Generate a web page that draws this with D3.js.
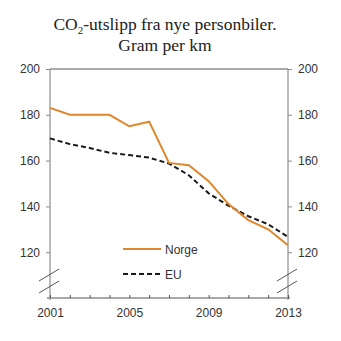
<!DOCTYPE html>
<html><head><meta charset="utf-8">
<script src="https://cdn.jsdelivr.net/npm/d3@7"></script>
<style>body{margin:0;background:#fff}svg{display:block}</style>
</head><body>
<svg id="c" width="341" height="341"></svg>
<script>
const years = [2001,2002,2003,2004,2005,2006,2007,2008,2009,2010,2011,2012,2013];
const norge = [183,180,180,180,175,177,159,158,151,141,134,130,123];
const eu = [169.7,167.2,165.5,163.4,162.4,161.3,158.7,153.6,145.7,140.3,135.7,132.2,126.7];
const yTicks = [120,140,160,180,200];
const xLabels = [2001,2005,2009,2013];
const seriesNames = ["Norge","EU"];

const svg = d3.select("#c");
const L=50,R=288,T=69,B=298;
const x = d3.scaleLinear().domain([2001,2013]).range([L,R]);
const y = d3.scaleLinear().domain([100,200]).range([B,T]);
const axisCol="#8c8c8c";
const font="Liberation Sans, Arial, sans-serif";

// title
const title = svg.append("text").attr("x",165).attr("y",30).attr("text-anchor","middle")
  .style("font-family","Liberation Serif, Times New Roman, serif").style("font-size","17.5px").attr("fill","#222");
title.append("tspan").text("CO");
title.append("tspan").text("2").attr("dy",4).style("font-size","11px");
title.append("tspan").text("-utslipp fra nye personbiler.").attr("dy",-4);
svg.append("text").attr("x",165).attr("y",51).attr("text-anchor","middle")
  .style("font-family","Liberation Serif, Times New Roman, serif").style("font-size","17.5px").attr("fill","#222")
  .text("Gram per km");

// frame
svg.append("line").attr("x1",L).attr("x2",R).attr("y1",T).attr("y2",T).attr("stroke","#555").attr("stroke-width",1);
svg.append("line").attr("x1",L-3).attr("x2",R+2).attr("y1",B).attr("y2",B).attr("stroke","#555").attr("stroke-width",1);

// y axes
const gl = svg.append("g").attr("transform",`translate(${L},0)`)
  .call(d3.axisLeft(y).tickValues(yTicks).tickSize(4).tickPadding(6).tickSizeOuter(0));
const gr = svg.append("g").attr("transform",`translate(${R},0)`)
  .call(d3.axisRight(y).tickValues(yTicks).tickSize(4).tickPadding(6).tickSizeOuter(0));
[gl,gr].forEach(g=>{
  g.select(".domain").remove();
  g.selectAll("line").attr("stroke",axisCol);
  g.selectAll("text").style("font-family",font).style("font-size","12px").attr("fill","#333");
});
[L,R].forEach(px=>svg.append("line").attr("x1",px).attr("x2",px).attr("y1",T).attr("y2",B+2).attr("stroke",axisCol).attr("stroke-width",1.2));

// x axis
const gx = svg.append("g").attr("transform",`translate(0,${B})`)
  .call(d3.axisBottom(x).tickValues(years).tickSize(-3).tickPadding(10).tickSizeOuter(0)
    .tickFormat(d=>xLabels.includes(d)?String(d):""));
gx.select(".domain").remove();
gx.selectAll("line").attr("stroke","#555");
gx.selectAll("text").style("font-family",font).style("font-size","12px").attr("fill","#333");

// break marks
[L,R].forEach(px=>{
  [281,293].forEach(yy=>{
    svg.append("line").attr("x1",px-11).attr("x2",px+9).attr("y1",yy).attr("y2",yy-12)
      .attr("stroke","#555").attr("stroke-width",1);
  });
});

// lines
const line = d3.line().x((d,i)=>x(years[i])).y(d=>y(d));
svg.append("path").datum(eu).attr("d",line).attr("fill","none").attr("stroke","#1a1a1a")
  .attr("stroke-width",2).attr("stroke-dasharray","5,3");
svg.append("path").datum(norge).attr("d",line).attr("fill","none").attr("stroke","#e0862a")
  .attr("stroke-width",2);

// legend
const leg=[{n:seriesNames[0],c:"#e0862a",d:null,y:249},{n:seriesNames[1],c:"#1a1a1a",d:"5,3",y:274}];
leg.forEach(l=>{
  svg.append("line").attr("x1",123).attr("x2",161).attr("y1",l.y).attr("y2",l.y)
    .attr("stroke",l.c).attr("stroke-width",2).attr("stroke-dasharray",l.d);
  svg.append("text").attr("x",165).attr("y",l.y+4.5).text(l.n)
    .style("font-family",font).style("font-size","12px").attr("fill","#333");
});
</script>
</body></html>
